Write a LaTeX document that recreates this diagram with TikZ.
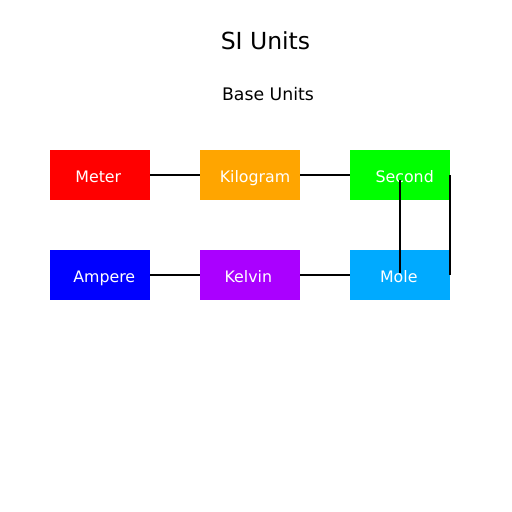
\documentclass[tikz,border=0pt]{standalone}
\usepackage{fontspec}
\setmainfont{DejaVu Sans}
\definecolor{cmeter}{HTML}{FF0000}
\definecolor{ckilo}{HTML}{FFA500}
\definecolor{csecond}{HTML}{00FF00}
\definecolor{campere}{HTML}{0000FF}
\definecolor{ckelvin}{HTML}{AA00FF}
\definecolor{cmole}{HTML}{00AAFF}
\begin{document}
\begin{tikzpicture}[x=1pt,y=-1pt,
  unitbox/.style={rectangle, minimum width=100pt, minimum height=50pt, inner sep=0pt, draw=none},
  unittext/.style={text=white, font=\fontsize{15.8}{18}\selectfont, inner sep=0pt, anchor=base},
  link/.style={draw=black, line width=2pt}]
\useasboundingbox (0,0) rectangle (512,512);
\node[font=\fontsize{23.5}{27}\selectfont, inner sep=0pt, anchor=base] (title) at (265.5,49.3) {SI Units};
\node[font=\fontsize{17.3}{20}\selectfont, inner sep=0pt, anchor=base] (sub) at (268,100) {Base Units};

\node[unitbox, fill=cmeter] (meter) at (100,175) {};
\node[unitbox, fill=ckilo] (kilogram) at (250,175) {};
\node[unitbox, fill=csecond] (second) at (400,175) {};
\node[unitbox, fill=campere] (ampere) at (100,275) {};
\node[unitbox, fill=ckelvin] (kelvin) at (250,275) {};
\node[unitbox, fill=cmole] (mole) at (400,275) {};

\node[unittext] (tmeter) at (98.3,182.3) {Meter};
\node[unittext] (tkilo) at (255,182.3) {Kilogram};
\node[unittext] (tsecond) at (404.7,182.3) {Second};
\node[unittext] (tampere) at (104.3,282.3) {Ampere};
\node[unittext] (tkelvin) at (248.3,282.3) {Kelvin};
\node[unittext] (tmole) at (398.8,282.3) {Mole};

\draw[link] (meter.east) -- (kilogram.west);
\draw[link] (kilogram.east) -- (second.west);
\draw[link] (ampere.east) -- (kelvin.west);
\draw[link] (kelvin.east) -- (mole.west);
\draw[link] ([yshift=-5pt]second.center) -- ([yshift=2pt]mole.center);
\draw[link] (second.east) -- (mole.east);
\end{tikzpicture}
\end{document}
